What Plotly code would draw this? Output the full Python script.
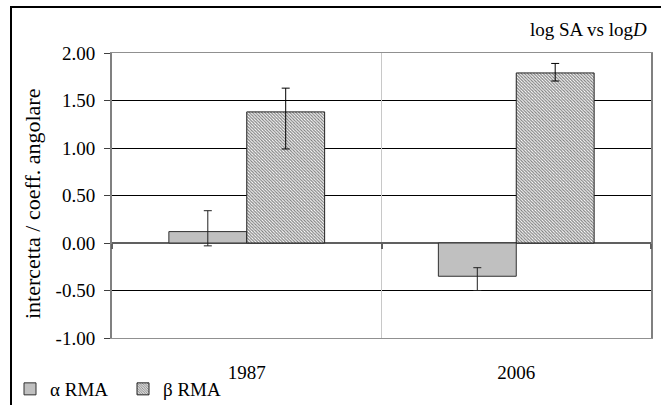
import plotly.graph_objects as go

categories = ["1987", "2006"]
alpha_vals = [0.12, -0.35]
alpha_err_plus = [0.22, 0.09]
alpha_err_minus = [0.15, 0.15]
beta_vals = [1.38, 1.79]
beta_err_plus = [0.25, 0.10]
beta_err_minus = [0.39, 0.085]
y_ticks = [-1.0, -0.5, 0.0, 0.5, 1.0, 1.5, 2.0]
y_tick_labels = ["-1.00", "-0.50", "0.00", "0.50", "1.00", "1.50", "2.00"]

FONT = "Times New Roman, Liberation Serif, serif"
xpos = list(range(len(categories)))

fig = go.Figure()
fig.add_trace(go.Bar(
    x=xpos, y=alpha_vals, name="α RMA",
    marker=dict(color="#c0c0c0", line=dict(color="#303030", width=1)),
    error_y=dict(type="data", symmetric=False, array=alpha_err_plus,
                 arrayminus=alpha_err_minus, color="#202020", thickness=1, width=4),
))
fig.add_trace(go.Bar(
    x=xpos, y=beta_vals, name="β RMA",
    marker=dict(color="white", line=dict(color="#202020", width=1),
                pattern=dict(shape="\\", fgcolor="#000000", bgcolor="#ffffff",
                             size=2.2, solidity=0.55)),
    error_y=dict(type="data", symmetric=False, array=beta_err_plus,
                 arrayminus=beta_err_minus, color="#000000", thickness=1, width=4),
))
# invisible helper trace so the category-boundary axis (x2) is drawn
fig.add_trace(go.Scatter(
    x=xpos, y=alpha_vals, xaxis="x2", mode="markers",
    marker=dict(opacity=0), showlegend=False, hoverinfo="skip",
))

L, R, T, B = 112, 10, 53, 67
W, H = 661, 405
pw, ph = W - L - R, H - T - B

def px_x(px):
    return (px - L) / pw

def px_y(py):
    return (H - B - py) / ph

fig.update_layout(
    width=W, height=H,
    margin=dict(l=L, r=R, t=T, b=B, autoexpand=False),
    paper_bgcolor="white", plot_bgcolor="white",
    font=dict(family=FONT, size=19, color="black"),
    barmode="group", bargap=0.422, bargroupgap=0,
    showlegend=True,
    legend=dict(orientation="h", x=px_x(10), y=px_y(370), xanchor="left", yanchor="top",
                entrywidth=68, entrywidthmode="pixels", font=dict(size=19, family=FONT),
                bgcolor="rgba(0,0,0,0)", itemclick=False, tracegroupgap=0),
    xaxis=dict(range=[-0.5, 1.5], tickvals=xpos, ticktext=categories, ticks="",
               showgrid=False, zeroline=False, showline=True, linecolor="#909090",
               linewidth=1, mirror=True, ticklabelstandoff=17,
               tickfont=dict(size=19, family=FONT)),
    xaxis2=dict(overlaying="x", anchor="free", position=px_y(243), range=[-0.5, 1.5],
                tickvals=[-0.5, 0.5, 1.5], ticks="outside", ticklen=5, tickwidth=2,
                tickcolor="#606060", showticklabels=False, showgrid=True,
                gridcolor="#c8c8c8", gridwidth=1, showline=False, zeroline=False),
    yaxis=dict(range=[-1.0, 2.0], tickvals=y_ticks, ticktext=y_tick_labels,
               ticks="outside", ticklen=6, tickcolor="#404040", tickwidth=1,
               ticklabelstandoff=5,
               showgrid=True, gridcolor="#000000", gridwidth=1,
               zeroline=True, zerolinecolor="#606060", zerolinewidth=2,
               showline=True, linecolor="#808080", linewidth=2, mirror=True,
               tickfont=dict(size=19, family=FONT)),
    shapes=[dict(type="rect", xref="paper", yref="paper",
                 x0=px_x(11), x1=px_x(700), y0=px_y(440), y1=px_y(7),
                 line=dict(color="#000000", width=2), fillcolor="rgba(0,0,0,0)", layer="below")],
    annotations=[
        dict(text="log SA vs log<i>D</i>", xref="paper", yref="paper",
             x=px_x(649), y=px_y(30), xanchor="right", yanchor="middle",
             showarrow=False, font=dict(size=19, family=FONT)),
        dict(text="intercetta / coeff. angolare", xref="paper", yref="paper",
             x=px_x(32), y=px_y(204), xanchor="center", yanchor="middle",
             textangle=-90, showarrow=False, font=dict(size=22, family=FONT)),
    ],
)

fig.write_html("out.html")
